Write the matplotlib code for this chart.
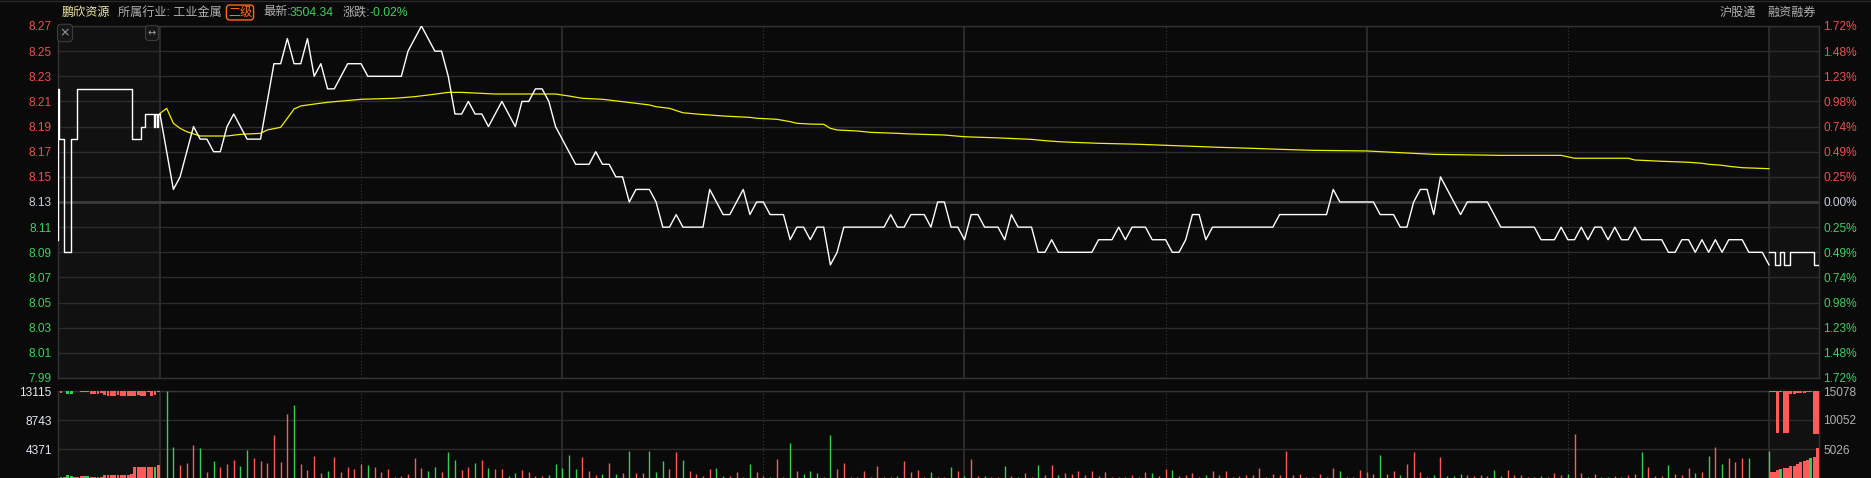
import matplotlib
matplotlib.use('Agg')
import matplotlib.pyplot as plt
import numpy as np

plt.rcParams['font.family'] = ['Liberation Sans', 'Noto Sans CJK SC', 'DejaVu Sans']

W, H = 1871, 478
BG = '#0a0a0a'
SHADE = '#111111'
GRID = '#2c2c2c'
RED = '#ff5a5a'
GREEN = '#35cf55'
LRED = '#ea5151'
LGREEN = '#3fcf5f'
NEUTRAL = '#c8d0dc'
GRAY = '#b0b0b0'

# ---------------- data ----------------
prev_close = 8.13
minutes = np.arange(0, 241)
price = [
    8.20, 8.17, 8.14, 8.15, 8.17, 8.19, 8.18, 8.18, 8.17, 8.17,
    8.19, 8.20, 8.19, 8.18, 8.18, 8.18, 8.21, 8.24, 8.24, 8.26,
    8.24, 8.24, 8.26, 8.23, 8.24, 8.22, 8.22, 8.23, 8.24, 8.24,
    8.24, 8.23, 8.23, 8.23, 8.23, 8.23, 8.23, 8.25, 8.26, 8.27,
    8.26, 8.25, 8.25, 8.23, 8.20, 8.20, 8.21, 8.20, 8.20, 8.19,
    8.20, 8.21, 8.20, 8.19, 8.21, 8.21, 8.22, 8.22, 8.21, 8.19,
    8.18, 8.17, 8.16, 8.16, 8.16, 8.17, 8.16, 8.16, 8.15, 8.15,
    8.13, 8.14, 8.14, 8.14, 8.13, 8.11, 8.11, 8.12, 8.11, 8.11,
    8.11, 8.11, 8.14, 8.13, 8.12, 8.12, 8.13, 8.14, 8.12, 8.13,
    8.13, 8.12, 8.12, 8.12, 8.10, 8.11, 8.11, 8.10, 8.11, 8.11,
    8.08, 8.09, 8.11, 8.11, 8.11, 8.11, 8.11, 8.11, 8.11, 8.12,
    8.11, 8.11, 8.12, 8.12, 8.12, 8.11, 8.13, 8.13, 8.11, 8.11,
    8.10, 8.12, 8.12, 8.11, 8.11, 8.11, 8.10, 8.12, 8.11, 8.11,
    8.11, 8.09, 8.09, 8.10, 8.09, 8.09, 8.09, 8.09, 8.09, 8.09,
    8.10, 8.10, 8.10, 8.11, 8.10, 8.11, 8.11, 8.11, 8.10, 8.10,
    8.10, 8.09, 8.09, 8.10, 8.12, 8.12, 8.10, 8.11, 8.11, 8.11,
    8.11, 8.11, 8.11, 8.11, 8.11, 8.11, 8.11, 8.12, 8.12, 8.12,
    8.12, 8.12, 8.12, 8.12, 8.12, 8.14, 8.13, 8.13, 8.13, 8.13,
    8.13, 8.13, 8.12, 8.12, 8.12, 8.11, 8.11, 8.13, 8.14, 8.14,
    8.12, 8.15, 8.14, 8.13, 8.12, 8.13, 8.13, 8.13, 8.13, 8.12,
    8.11, 8.11, 8.11, 8.11, 8.11, 8.11, 8.10, 8.10, 8.10, 8.11,
    8.10, 8.10, 8.11, 8.10, 8.11, 8.11, 8.10, 8.11, 8.10, 8.10,
    8.11, 8.10, 8.10, 8.10, 8.10, 8.09, 8.09, 8.10, 8.10, 8.09,
    8.10, 8.09, 8.10, 8.09, 8.10, 8.10, 8.10, 8.09, 8.09, 8.09,
    8.08]

avg_t = [0, 1, 2, 3, 4, 6, 10, 12, 15, 16, 18, 19, 20, 21, 23, 25, 30, 35, 38, 40,
         43, 45, 50, 59, 61, 63, 66, 69, 71, 73, 74, 76, 78, 80, 82, 84, 88, 89, 92, 94,
         95, 97, 99, 100, 101, 104, 106, 110, 112, 117, 120, 125, 130, 132, 134, 136, 140, 146, 150, 153,
         158, 163, 167, 172, 180, 184, 187, 190, 200, 209, 211, 219, 220, 224, 228, 230, 231, 233, 234, 236,
         240]
avg_p = [8.2005, 8.2045, 8.1926, 8.1886, 8.1859, 8.1825, 8.1825, 8.1838, 8.1846, 8.1873,
         8.1894, 8.1966, 8.2040, 8.2064, 8.2079, 8.2093, 8.2117, 8.2125, 8.2138, 8.2151,
         8.2172, 8.2172, 8.2159, 8.2159, 8.2143, 8.2125, 8.2117, 8.2098, 8.2085, 8.2072,
         8.2058, 8.2045, 8.2010, 8.2000, 8.1992, 8.1984, 8.1973, 8.1966, 8.1958, 8.1939,
         8.1926, 8.1920, 8.1918, 8.1886, 8.1873, 8.1865, 8.1854, 8.1846, 8.1841, 8.1833,
         8.1819, 8.1810, 8.1798, 8.1788, 8.1780, 8.1775, 8.1767, 8.1759, 8.1751, 8.1745,
         8.1735, 8.1727, 8.1719, 8.1711, 8.1706, 8.1695, 8.1687, 8.1679, 8.1671, 8.1671,
         8.1648, 8.1648, 8.1634, 8.1624, 8.1616, 8.1608, 8.1600, 8.1592, 8.1584, 8.1573,
         8.1565]

# call-auction (pre-open) price steps, minutes relative to 9:30
pre_t = [-15.21, -15.15, -15.0, -14.25, -13.3, -12.4, -4.2, -2.9, -2.25, -0.85, -0.7, -0.4, -0.25, 0.0]
pre_p = [8.10, 8.22, 8.18, 8.09, 8.18, 8.22, 8.18, 8.19, 8.20, 8.19, 8.20, 8.19, 8.20, 8.20]

# after-hours price steps
aft_t = [240.0, 240.9, 241.6, 242.25, 243.1, 246.65, 247.46]
aft_p = [8.09, 8.08, 8.09, 8.08, 8.09, 8.08, 8.08]

vol_t = np.arange(1, 241)
vol = [
    13115, 4691, 1967, 2270, 4994, 4489, 908, 2572, 1665, 2118,
    2724, 1816, 4237, 3026, 2572, 2270, 6507, 2421, 9684, 11046,
    2118, 1211, 3329, 757, 1059, 3178, 908, 1665, 1362, 2118,
    1967, 1665, 908, 1362, 151, 303, 605, 3026, 1513, 1059,
    1665, 908, 3934, 2724, 1211, 1665, 2270, 2724, 1513, 1362,
    1362, 303, 757, 1211, 908, 303, 303, 454, 2118, 1513,
    3480, 1362, 3178, 1059, 454, 605, 2270, 605, 757, 4086,
    757, 757, 4086, 908, 2572, 1362, 3934, 2724, 1059, 605,
    303, 1362, 1513, 303, 303, 908, 151, 2118, 908, 303,
    151, 2875, 151, 5296, 1059, 605, 1059, 757, 151, 6507,
    1362, 2270, 151, 151, 1059, 151, 1816, 151, 151, 303,
    2572, 908, 1211, 151, 908, 151, 151, 1665, 1059, 303,
    2875, 303, 303, 151, 151, 1816, 303, 151, 757, 151,
    1967, 454, 1967, 454, 757, 605, 1059, 454, 1059, 303,
    908, 151, 151, 151, 454, 151, 908, 757, 303, 1362,
    1211, 303, 454, 757, 151, 454, 1059, 454, 1059, 151,
    303, 454, 454, 1513, 151, 605, 454, 4086, 454, 605,
    151, 151, 605, 151, 1513, 1059, 151, 151, 1211, 908,
    605, 3480, 605, 1059, 454, 2118, 3934, 908, 151, 454,
    3178, 303, 303, 605, 454, 303, 454, 303, 1211, 303,
    1211, 454, 454, 151, 151, 303, 151, 757, 454, 605,
    6658, 757, 151, 605, 151, 151, 303, 151, 454, 605,
    3934, 1665, 303, 303, 1967, 605, 454, 1513, 757, 908,
    3329, 4691, 2118, 3026, 2421, 3026, 3026, 0, 0, 4144]
vol_dir = ("GGRRRGRGRR" "RGGRRRRRRG" "RRRRGRRRRR" "GRRRRRRRRG" "GRGGRRGRGR"
           "RGGRRRRGGG" "GGRRRGRGRG" "RRGGGRRGRR" "RRGGRRRGRR" "GRRGRGGGRG"
           "RRRRRRRRRG" "RRRRGRRGRG" "RRGRRGRGRR" "GRRGRRRRRR" "RRRGRRRGRR"
           "GRRRRGRRRR" "RRRRRRRRRR" "RRRRRGRRRR" "RGRRGRRRRG" "RGGGRRRRGG"
           "RRRRRGRRRG" "RRGRGGRGRR" "GRRRGRRRGR" "GRGRRRGRRG")

pre_vt = [-14.75, -14.25, -13.75, -13.25, -12.75, -12.25, -11.75, -11.25, -10.75, -10.25,
          -9.75, -9.25, -8.75, -8.25, -7.75, -7.25, -6.75, -6.25, -5.75, -5.25,
          -4.75, -4.25, -3.75, -3.25, -2.75, -2.25, -1.75, -1.25, -0.75, -0.25]
pre_vol = [150, 100, 400, 300, 100, 100, 300, 300, 300, 150,
           150, 150, 150, 450, 450, 500, 500, 500, 500, 500,
           500, 600, 1650, 1650, 1650, 1650, 1650, 1650, 1650, 2000]
pre_vol_dir = "GRGGRRRGGRRRRRRRRRRRRRRRRRRRGR"
pre_unmatched = [300, 0, 450, 450, 0, 0, 150, 150, 150, 450,
                 450, 450, 300, 600, 700, 700, 700, 600, 700, 700,
                 700, 700, 700, 600, 700, 700, 150, 700, 600, 150]
pre_unm_dir = "RRGGRRGRGRRRRRRRRRRRRRRRRRGRRG"

aft_vt = [240.25, 240.75, 241.25, 241.75, 242.25, 242.75, 243.25, 243.75, 244.25, 244.75,
          245.25, 245.75, 246.25, 246.75, 247.25]
aft_vol = [1000, 1100, 1300, 1500, 1650, 1700, 2000, 2100, 2500, 2700, 3000, 3100, 3400, 3600, 5200]
aft_vol_dir = "RRRGRRRRRRRRGRR"
aft_unmatched = [150, 150, 7200, 150, 7200, 7200, 600, 500, 400, 350, 300, 250, 200, 7400, 7400]
aft_unm_dir = "GGRGRRRRRRRRRRR"

price_ticks = [8.27, 8.25, 8.23, 8.21, 8.19, 8.17, 8.15, 8.13, 8.11, 8.09, 8.07, 8.05, 8.03, 8.01, 7.99]
pct_labels = ['1.72%', '1.48%', '1.23%', '0.98%', '0.74%', '0.49%', '0.25%', '0.00%',
              '0.25%', '0.49%', '0.74%', '0.98%', '1.23%', '1.48%', '1.72%']
vol_ticks = [13115, 8743, 4371]
aft_vol_ticks = [15078, 10052, 5026]
solid_t = [0, 60, 120, 180, 240]
dotted_t = [30, 90, 150, 210]

XLIM = (-15.21, 247.46)

# ---------------- figure ----------------
fig = plt.figure(figsize=(W / 100, H / 100), dpi=100, facecolor=BG)


def fx(px):
    return px / W


def fy(py):
    return 1 - py / H


ax_p = fig.add_axes([fx(58), fy(378), (1819 - 58) / W, (378 - 26) / H])
ax_v = fig.add_axes([fx(58), fy(478), (1819 - 58) / W, (478 - 391) / H])

for ax in (ax_p, ax_v):
    ax.set_facecolor(BG)
    ax.set_xlim(*XLIM)
    ax.axvspan(XLIM[0], 0, color=SHADE, zorder=0, lw=0)
    ax.axvspan(240, XLIM[1], color=SHADE, zorder=0, lw=0)
    for t in solid_t:
        ax.axvline(t, color='#303030', lw=1.2, zorder=1)
    for t in dotted_t:
        ax.axvline(t, color='#3a3a3a', lw=0.8, ls=(0, (1, 2)), zorder=1)
    ax.set_xticks([])
    for s in ax.spines.values():
        s.set_color('#333333')
        s.set_linewidth(1.0)
    ax.spines['bottom'].set_visible(ax is ax_p)

# price panel
ax_p.set_ylim(7.99, 8.27)
for p in price_ticks:
    if abs(p - prev_close) < 1e-6:
        ax_p.axhline(p, color='#3c3c3c', lw=2.0, zorder=1)
    else:
        ax_p.axhline(p, color=GRID, lw=1.0, zorder=1)

ax_p.plot(avg_t, avg_p, color='#f0f000', lw=0.9, zorder=3)
ax_p.plot(minutes, price, color='white', lw=1.0, zorder=4)
ax_p.step(pre_t, pre_p, where='post', color='white', lw=1.0, zorder=4)
ax_p.step(aft_t, aft_p, where='post', color='white', lw=1.0, zorder=4)


def lab_color(p):
    if p > prev_close + 1e-6:
        return LRED
    if p < prev_close - 1e-6:
        return LGREEN
    return NEUTRAL


ax_p.set_yticks(price_ticks)
ax_p.set_yticklabels([f'{p:.2f}' for p in price_ticks])
ax_p.tick_params(axis='y', length=0, pad=4.5, labelsize=8.6)
for lbl, p in zip(ax_p.get_yticklabels(), price_ticks):
    lbl.set_color(lab_color(p))

ax_p2 = ax_p.twinx()
ax_p2.set_ylim(7.99, 8.27)
ax_p2.set_yticks(price_ticks)
ax_p2.set_yticklabels(pct_labels)
ax_p2.tick_params(axis='y', length=0, pad=3, labelsize=8.6)
for lbl, p in zip(ax_p2.get_yticklabels(), price_ticks):
    lbl.set_color(lab_color(p))
for s in ax_p2.spines.values():
    s.set_visible(False)
ax_p2.set_xticks([])

# volume panel
ax_v.set_ylim(0, 13115)
for v in vol_ticks:
    ax_v.axhline(v, color=GRID, lw=1.0, zorder=1)
vcols = [RED if c == 'R' else GREEN for c in vol_dir]
ax_v.vlines(vol_t, 0, vol, colors=vcols, lw=1.0, zorder=3)
pcols = [RED if c == 'R' else GREEN for c in pre_vol_dir]
ax_v.bar(pre_vt, pre_vol, width=0.42, color=pcols, zorder=3, lw=0)
ucols = [RED if c == 'R' else GREEN for c in pre_unm_dir]
ax_v.bar(pre_vt, [-u for u in pre_unmatched], bottom=13115, width=0.42, color=ucols, zorder=3, lw=0)
ax_v.set_yticks(vol_ticks)
ax_v.set_yticklabels([str(v) for v in vol_ticks])
ax_v.tick_params(axis='y', length=0, pad=4.5, labelsize=8.6, labelcolor='#e2e8f2')

ax_v2 = ax_v.twinx()
ax_v2.set_ylim(0, 15078)
acols = [RED if c == 'R' else GREEN for c in aft_vol_dir]
ax_v2.bar(aft_vt, aft_vol, width=0.46, color=acols, zorder=3, lw=0)
aucols = [RED if c == 'R' else GREEN for c in aft_unm_dir]
ax_v2.bar(aft_vt, [-u for u in aft_unmatched], bottom=15078, width=0.46, color=aucols, zorder=3, lw=0)
ax_v2.set_yticks(aft_vol_ticks)
ax_v2.set_yticklabels([str(v) for v in aft_vol_ticks])
ax_v2.tick_params(axis='y', length=0, pad=3, labelsize=8.6, labelcolor=GRAY)
for s in ax_v2.spines.values():
    s.set_visible(False)
ax_v2.set_xlim(*XLIM)
ax_v2.set_xticks([])

# ---------------- header ----------------
fig.add_artist(plt.Line2D([0, 1], [fy(0.5), fy(0.5)], color='#2a2a2a', lw=1))
hy = fy(12.5)
hfs = 8.7
fig.text(fx(62), hy, '鹏欣资源', color='#eee6a0', fontsize=hfs, va='center', ha='left')
fig.text(fx(118), hy, '所属行业: 工业金属', color=GRAY, fontsize=hfs, va='center', ha='left')
fig.text(fx(240), hy, '二级', color='#ff6a1e', fontsize=hfs, va='center', ha='center',
         bbox=dict(boxstyle='round,pad=0.12,rounding_size=0.25', fc='none', ec='#ff6a1e', lw=1.0))
fig.text(fx(263), hy, '最新:', color=GRAY, fontsize=hfs, va='center', ha='left')
fig.text(fx(290), hy, '3504.34', color=LGREEN, fontsize=hfs, va='center', ha='left')
fig.text(fx(343), hy, '涨跌:', color=GRAY, fontsize=hfs, va='center', ha='left')
fig.text(fx(370), hy, '-0.02%', color=LGREEN, fontsize=hfs, va='center', ha='left')
fig.text(fx(1720), hy, '沪股通', color=GRAY, fontsize=hfs, va='center', ha='left')
fig.text(fx(1767), hy, '融资融券', color=GRAY, fontsize=hfs, va='center', ha='left')

# small icon boxes
fig.text(fx(65), fy(33), '×', color='#a0a0a0', fontsize=9, va='center', ha='center', family='DejaVu Sans',
         bbox=dict(boxstyle='round,pad=0.18,rounding_size=0.3', fc='#161616', ec='#3c3c3c', lw=0.8))
fig.text(fx(152), fy(33), '↔', color='#a0a0a0', fontsize=7, va='center', ha='center', family='DejaVu Sans',
         bbox=dict(boxstyle='round,pad=0.25,rounding_size=0.3', fc='#161616', ec='#3c3c3c', lw=0.8))

fig.savefig('out.png', dpi=100, facecolor=BG)
